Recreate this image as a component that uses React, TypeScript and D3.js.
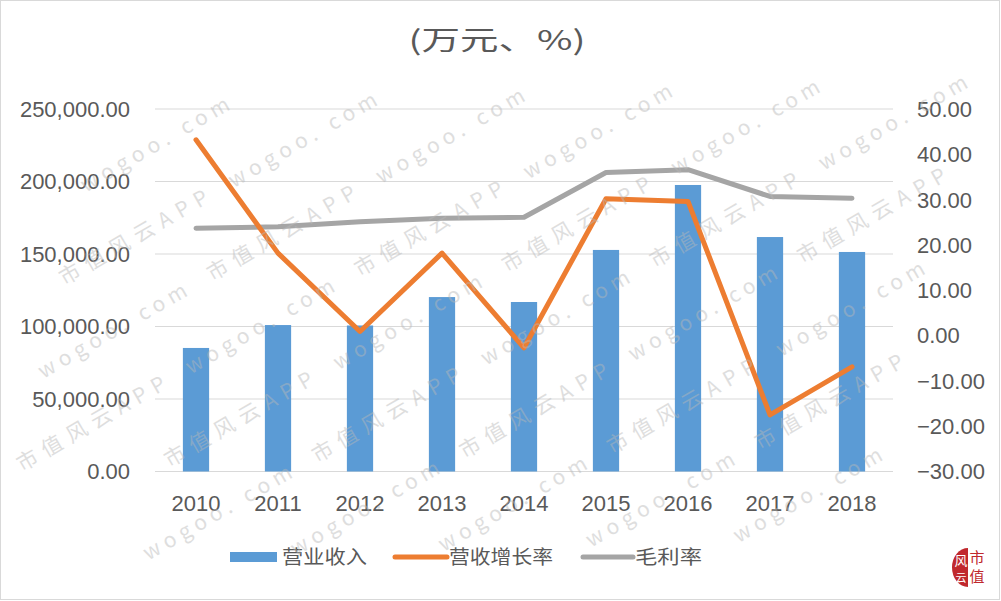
import { scaleBand, scaleLinear, line as d3_line, range, format } from "d3"

const years = ["2010", "2011", "2012", "2013", "2014", "2015", "2016", "2017", "2018"]
const revenue = [85200, 101000, 100700, 120300, 116900, 152800, 197600, 161700, 151400]
const growthRate = [43.2, 18.2, 0.9, 18.2, -2.7, 30.2, 29.6, -17.5, -6.9]
const grossMargin = [23.7, 24.0, 25.1, 25.9, 26.1, 36.0, 36.6, 30.7, 30.3]
const leftTicks = [0, 50000, 100000, 150000, 200000, 250000]
const rightTicks = [-30, -20, -10, 0, 10, 20, 30, 40, 50]
const title = "(万元、%)"
const seriesNames = ["营业收入", "营收增长率", "毛利率"]
const watermarks = ["市值风云APP", "wogoo. com"]

const BLUE = "#5b9bd5"
const ORANGE = "#ed7d31"
const GRAY = "#a5a5a5"
const TEXT = "#595959"
const NUM_FONT = "'Liberation Sans', Arial, sans-serif"
const CJK_FONT = "'Noto Sans CJK SC', sans-serif"

export default function App() {
  const W = 1001
  const H = 601
  const plot = { left: 155, right: 893, top: 109, bottom: 471.5 }

  const x = scaleBand<string>()
    .domain(years)
    .range([plot.left, plot.right])
    .paddingInner(0.68)
    .paddingOuter(0.34)
  const cx = (y: string) => (x(y) ?? 0) + x.bandwidth() / 2

  const yLeft = scaleLinear().domain([0, 250000]).range([plot.bottom, plot.top])
  const yRight = scaleLinear().domain([-30, 50]).range([plot.bottom, plot.top])

  const lineRight = d3_line<number>()
    .x((_, i) => cx(years[i]))
    .y((d) => yRight(d))

  const fmtLeft = format(",.2f")
  const fmtRight = format(".2f")

  // watermark: items along -30deg rows, only the ones fully inside the picture
  const ang = (-30 * Math.PI) / 180
  const toScreen = (u: number, v: number) => [
    500 + (u - 500) * Math.cos(ang) - (v - 300) * Math.sin(ang),
    300 + (u - 500) * Math.sin(ang) + (v - 300) * Math.cos(ang),
  ]
  const itemLen = 168
  const wm: { u: number; v: number; t: string }[] = []
  range(-8, 16).forEach((r) => {
    range(-6, 8).forEach((c) => {
      const u = c * 390 + ((r * 130) % 390)
      const v = r * 70
      ;[0, 1].forEach((k) => {
        const uu = u + k * 195
        const pts = [
          toScreen(uu, v + 3),
          toScreen(uu + itemLen, v + 3),
          toScreen(uu, v - 19),
          toScreen(uu + itemLen, v - 19),
        ]
        if (pts.every(([px, py]) => px > 2 && px < W - 3 && py > 2 && py < H - 3)) {
          wm.push({ u: uu, v, t: watermarks[k] })
        }
      })
    })
  })

  return (
    <svg
      width={W}
      height={H}
      style={{ position: "absolute", left: 0, top: 0, background: "#fff" }}
    >
      <rect x={0} y={0} width={W} height={H} fill="#fff" />

      {/* title */}
      <text
        x={497}
        y={50}
        textAnchor="middle"
        fontFamily={CJK_FONT}
        fontSize={27}
        fill={TEXT}
        textLength={177}
        lengthAdjust="spacingAndGlyphs"
      >
        {title}
      </text>

      {/* grid */}
      {leftTicks.map((t) => (
        <line
          key={t}
          x1={plot.left}
          x2={plot.right}
          y1={yLeft(t)}
          y2={yLeft(t)}
          stroke="#d9d9d9"
          strokeWidth={1}
        />
      ))}

      {/* left axis */}
      {leftTicks.map((t) => (
        <text
          key={t}
          x={130}
          y={yLeft(t)}
          dy="0.36em"
          textAnchor="end"
          fontFamily={NUM_FONT}
          fontSize={22}
          fill={TEXT}
        >
          {fmtLeft(t)}
        </text>
      ))}

      {/* right axis */}
      {rightTicks.map((t) => (
        <text
          key={t}
          x={917}
          y={yRight(t)}
          dy="0.36em"
          textAnchor="start"
          fontFamily={NUM_FONT}
          fontSize={22}
          fill={TEXT}
        >
          {fmtRight(t)}
        </text>
      ))}

      {/* x axis */}
      {years.map((yr) => (
        <text
          key={yr}
          x={cx(yr)}
          y={503}
          dy="0.36em"
          textAnchor="middle"
          fontFamily={NUM_FONT}
          fontSize={22}
          fill={TEXT}
        >
          {yr}
        </text>
      ))}

      {/* bars */}
      {years.map((yr, i) => (
        <rect
          key={yr}
          x={x(yr)}
          y={yLeft(revenue[i])}
          width={x.bandwidth()}
          height={yLeft(0) - yLeft(revenue[i])}
          fill={BLUE}
        />
      ))}

      {/* lines */}
      <path
        d={lineRight(grossMargin) ?? ""}
        fill="none"
        stroke={GRAY}
        strokeWidth={5}
        strokeLinejoin="round"
        strokeLinecap="round"
      />
      <path
        d={lineRight(growthRate) ?? ""}
        fill="none"
        stroke={ORANGE}
        strokeWidth={5}
        strokeLinejoin="round"
        strokeLinecap="round"
      />

      {/* legend */}
      <g fontFamily={CJK_FONT} fontSize={19} fill={TEXT}>
        <rect x={230} y={552} width={47} height={10} fill={BLUE} />
        <text x={282} y={557} dy="0.36em" textLength={85} lengthAdjust="spacingAndGlyphs">
          {seriesNames[0]}
        </text>
        <line x1={395} x2={447} y1={557} y2={557} stroke={ORANGE} strokeWidth={5} strokeLinecap="round" />
        <text x={449} y={557} dy="0.36em" textLength={104} lengthAdjust="spacingAndGlyphs">
          {seriesNames[1]}
        </text>
        <line x1={583} x2={633} y1={557} y2={557} stroke={GRAY} strokeWidth={5} strokeLinecap="round" />
        <text x={635} y={557} dy="0.36em" textLength={67} lengthAdjust="spacingAndGlyphs">
          {seriesNames[2]}
        </text>
      </g>

      {/* watermark */}
      <g
        transform="rotate(-30 500 300)"
        fontFamily={CJK_FONT}
        fontSize={21}
        fill="#b8b8b8"
        opacity={0.45}
      >
        {wm.map((d, i) => (
          <text key={i} x={d.u} y={d.v} textLength={itemLen} lengthAdjust="spacing">
            {d.t}
          </text>
        ))}
      </g>

      {/* logo */}
      <path d="M968,548 A16,19.5 0 0 0 968,587 Z" fill="#c0282d" />
      <text x={961} y={565} textAnchor="middle" fontFamily={CJK_FONT} fontSize={13} fill="#fff">风</text>
      <text x={961} y={582} textAnchor="middle" fontFamily={CJK_FONT} fontSize={11} fill="#fff">云</text>
      <text x={977} y={563} textAnchor="middle" fontFamily={CJK_FONT} fontSize={15} fill="#c0282d">市</text>
      <text x={977} y={582} textAnchor="middle" fontFamily={CJK_FONT} fontSize={15} fill="#c0282d">值</text>

      {/* frame */}
      <rect x={0.5} y={0.5} width={W - 2} height={H - 2} fill="none" stroke="#d9d9d9" />
    </svg>
  )
}
